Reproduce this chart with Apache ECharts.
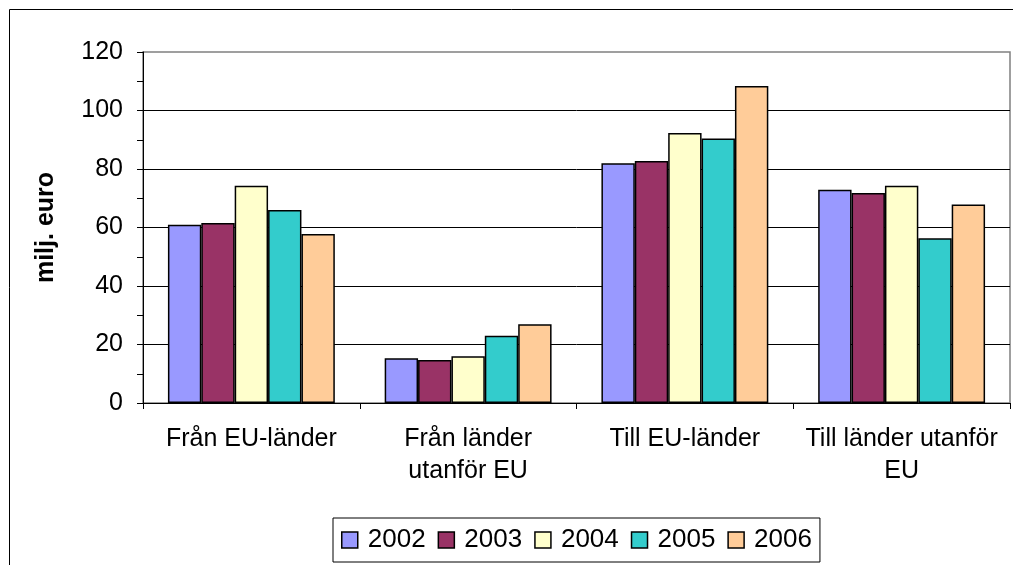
<!DOCTYPE html>
<html>
<head>
<meta charset="utf-8">
<script src="https://cdn.jsdelivr.net/npm/echarts@6/dist/echarts.min.js"></script>
<style>
  html, body { margin: 0; padding: 0; background: #fff; }
  #main { width: 1013px; height: 565px; }
</style>
</head>
<body>
<div id="main"></div>
<script>
// data
var categories = ['Från EU-länder', 'Från länder\nutanför EU', 'Till EU-länder', 'Till länder utanför\nEU'];
var years = ['2002', '2003', '2004', '2005', '2006'];
var v2002 = [60.9, 15.3, 82.0, 72.9];
var v2003 = [61.5, 14.7, 82.7, 71.8];
var v2004 = [74.3, 16.0, 92.3, 74.3];
var v2005 = [66.0, 23.0, 90.4, 56.3];
var v2006 = [57.8, 26.9, 108.4, 67.9];
var yTicks = [0, 20, 40, 60, 80, 100, 120];

var seriesValues = [v2002, v2003, v2004, v2005, v2006];
var colors = ['#9999FF', '#993366', '#FFFFCC', '#33CCCC', '#FFCC99'];
var font = 'Liberation Sans, Arial, sans-serif';

var chartDom = document.getElementById('main');
var myChart = echarts.init(chartDom);

var series = years.map(function (y, i) {
  return {
    name: y,
    type: 'bar',
    barGap: '0%',
    barCategoryGap: '23%',
    itemStyle: { color: colors[i], borderColor: '#000', borderWidth: 1.5 },
    data: seriesValues[i]
  };
});

var option = {
  backgroundColor: '#fff',
  animation: false,
  color: colors,
  graphic: [{
    type: 'rect',
    shape: { x: 9.5, y: 9.5, width: 1200, height: 800 },
    style: { fill: 'none', stroke: '#000', lineWidth: 1 },
    z: -1
  }],
  grid: {
    left: 143, top: 52, right: 3, bottom: 162,
    show: true, borderColor: '#808080', borderWidth: 1.5, backgroundColor: 'transparent'
  },
  legend: {
    left: 333, top: 518,
    padding: [9, 8, 9, 8],
    borderColor: '#000', borderWidth: 1,
    itemWidth: 16, itemHeight: 16, itemGap: 12,
    icon: 'rect',
    itemStyle: { borderColor: '#000', borderWidth: 1.5 },
    textStyle: { fontFamily: font, fontSize: 26, color: '#000', padding: [0, 0, 0, 5] },
    data: years
  },
  xAxis: {
    type: 'category',
    data: categories,
    axisLine: { lineStyle: { color: '#000', width: 1 } },
    axisTick: { show: true, length: 6, lineStyle: { color: '#000' } },
    axisLabel: { fontFamily: font, fontSize: 25, color: '#000', margin: 20, lineHeight: 32, interval: 0 }
  },
  yAxis: {
    type: 'value',
    min: yTicks[0], max: yTicks[yTicks.length - 1], interval: 20,
    name: 'milj. euro',
    nameLocation: 'middle',
    nameGap: 84,
    nameTextStyle: { fontFamily: font, fontSize: 25, fontWeight: 'bold', color: '#000' },
    axisLine: { show: true, lineStyle: { color: '#000', width: 1 } },
    axisTick: { show: true, length: 6, lineStyle: { color: '#000' } },
    minorTick: { show: true, splitNumber: 2, length: 6, lineStyle: { color: '#000' } },
    axisLabel: { fontFamily: font, fontSize: 25, color: '#000', margin: 20 },
    splitLine: { show: true, showMinLine: false, showMaxLine: false, lineStyle: { color: '#000', width: 1 } }
  },
  series: series
};

myChart.setOption(option);
window.addEventListener('resize', function () { myChart.resize(); });
</script>
</body>
</html>
